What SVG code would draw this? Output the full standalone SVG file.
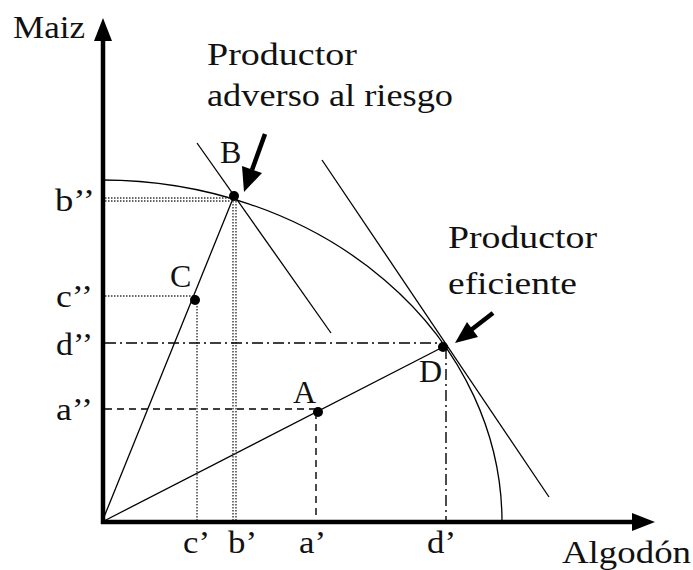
<svg xmlns="http://www.w3.org/2000/svg" width="693" height="570" viewBox="0 0 693 570" font-family="Liberation Serif, Times New Roman, Times, serif">
<style>
text{font-family:'Liberation Serif','Times New Roman',Times,serif;font-size:32px;fill:#111}
.thin{stroke:#000;stroke-width:1.3;fill:none}
.dot{stroke:#333;stroke-width:1.4;stroke-dasharray:1.5 1.5;fill:none}
.dash{stroke:#000;stroke-width:1.4;stroke-dasharray:7 5;fill:none}
.dashdot{stroke:#000;stroke-width:1.4;stroke-dasharray:11 4 2 4;fill:none}
.axis{stroke:#000;stroke-width:4.5;fill:none}
.pt{fill:#000}
</style>
<rect width="693" height="570" fill="#fff"/>
<g id="axes">
<line class="axis" x1="103" y1="524" x2="103" y2="38"/>
<polygon points="103,18 94,41 112,41" fill="#000"/>
<line class="axis" x1="101" y1="522" x2="634" y2="522"/>
<polygon points="655,522 632,513 632,531" fill="#000"/>
<text x="13" y="38" textLength="72" lengthAdjust="spacingAndGlyphs">Maiz</text>
<text x="562" y="563" textLength="129" lengthAdjust="spacingAndGlyphs">Algodón</text>
</g>
<g id="connectors">
<path class="thin" d="M102,180 A400,342 0 0 1 502,522"/>
<line class="thin" x1="197" y1="143" x2="331" y2="333"/>
<line class="thin" x1="322" y1="160" x2="549" y2="497"/>
<line class="thin" x1="102" y1="522" x2="234" y2="196"/>
<line class="thin" x1="102" y1="522" x2="443" y2="347"/>
<line class="dot" x1="105" y1="198" x2="232" y2="198"/>
<line class="dot" x1="105" y1="201" x2="232" y2="201"/>
<line class="dot" x1="233" y1="198" x2="233" y2="520"/>
<line class="dot" x1="236" y1="198" x2="236" y2="520"/>
<line class="dot" x1="105" y1="296" x2="196" y2="296"/>
<line class="dot" x1="197" y1="300" x2="197" y2="520"/>
<line class="dashdot" x1="105" y1="343" x2="443" y2="343"/>
<line class="dashdot" x1="446" y1="348" x2="446" y2="520"/>
<line class="dash" x1="105" y1="409" x2="318" y2="409"/>
<line class="dash" x1="316" y1="412" x2="316" y2="520"/>
</g>
<g id="B">
<circle class="pt" cx="234" cy="196" r="5"/>
<text x="220" y="163">B</text>
</g>
<g id="C">
<circle class="pt" cx="195" cy="300" r="5"/>
<text x="170" y="287">C</text>
</g>
<g id="D">
<circle class="pt" cx="443" cy="347" r="5"/>
<text x="419" y="382">D</text>
</g>
<g id="A">
<circle class="pt" cx="318" cy="412" r="5"/>
<text x="293" y="403">A</text>
</g>
<g id="arrowB">
<line x1="265" y1="134" x2="252" y2="170" stroke="#000" stroke-width="4.5"/>
<polygon points="244,192 262,173 242,166" fill="#000"/>
</g>
<g id="arrowD">
<line x1="493" y1="313" x2="471" y2="330" stroke="#000" stroke-width="4.5"/>
<polygon points="455,343 478,337 467,322" fill="#000"/>
</g>
<g id="labels">
<text x="207" y="65" textLength="150" lengthAdjust="spacingAndGlyphs">Productor</text>
<text x="207" y="106" textLength="246" lengthAdjust="spacingAndGlyphs">adverso al riesgo</text>
<text x="448" y="248" textLength="149" lengthAdjust="spacingAndGlyphs">Productor</text>
<text x="448" y="294" textLength="129" lengthAdjust="spacingAndGlyphs">eficiente</text>
<text x="55" y="211" textLength="40" lengthAdjust="spacingAndGlyphs">b’’</text>
<text x="56" y="307" textLength="37" lengthAdjust="spacingAndGlyphs">c’’</text>
<text x="56" y="355" textLength="37" lengthAdjust="spacingAndGlyphs">d’’</text>
<text x="56" y="420" textLength="37" lengthAdjust="spacingAndGlyphs">a’’</text>
<text x="183" y="553" textLength="27" lengthAdjust="spacingAndGlyphs">c’</text>
<text x="228" y="553" textLength="29" lengthAdjust="spacingAndGlyphs">b’</text>
<text x="299" y="553" textLength="27" lengthAdjust="spacingAndGlyphs">a’</text>
<text x="427" y="553" textLength="29" lengthAdjust="spacingAndGlyphs">d’</text>
</g>
</svg>
